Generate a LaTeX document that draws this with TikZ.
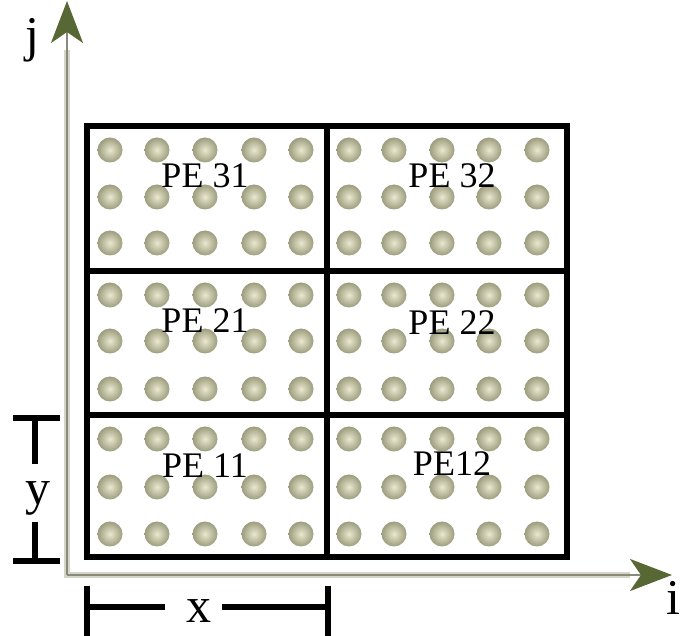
\documentclass[tikz,border=0pt]{standalone}
\usepackage{fontspec}
\setmainfont{Liberation Serif}
\usetikzlibrary{arrows.meta}
\definecolor{axisgray}{RGB}{138,138,122}
\definecolor{axishalo}{RGB}{214,214,200}
\definecolor{tipgreen}{RGB}{88,104,52}
\definecolor{dotin}{RGB}{234,232,206}
\definecolor{dotout}{RGB}{156,156,126}
\tikzset{
  axishalo/.style={line width=6pt, draw=axishalo},
  axisline/.style={line width=2.6pt, draw=axisgray,
    -{Stealth[length=42pt, width=32pt, inset=11pt, color=tipgreen]}},
  gridline/.style={line width=5.5pt, draw=black},
  bracket/.style={line width=5.5pt, draw=black},
  pelabel/.style={font=\fontsize{36}{40}\selectfont, inner sep=0pt},
  axislabel/.style={font=\fontsize{50}{56}\selectfont, inner sep=0pt},
  atom/.style={inner color=dotin, outer color=dotout}
}
\begin{document}
\begin{tikzpicture}[x=1pt, y=-1pt]
\useasboundingbox (0,0) rectangle (681,636);

% axes
\coordinate (o) at (67,575);
\coordinate (jtip) at (67,1);
\coordinate (itip) at (672,575);
\draw[axishalo] (jtip |- 0,50) -- (o) -- (itip -| 630,0);
\draw[axisline] (o) -- (jtip);
\draw[axisline] (o) -- (itip);
\node[axislabel] (jlab) at (32,40) {j};
\node[axislabel, anchor=east] (ilab) at (681,598) {i};

% particles
\foreach \cx in {110,157,205,254,301,349,394,442,489,537}
  \foreach \cy in {150,197,243,295,341,389,439,487,534}
    \shade[atom] (\cx,\cy) circle (12.5);

% processor grid
\coordinate (bl) at (87,557);
\coordinate (tr) at (567,126);
\draw[gridline] (bl) rectangle (tr);
\draw[gridline] (327,126) -- (327,557);
\draw[gridline] (87,271) -- (567,271);
\draw[gridline] (87,415) -- (567,415);

\node[pelabel] (pe31) at (205,176) {PE 31};
\node[pelabel] (pe32) at (452,176) {PE 32};
\node[pelabel] (pe21) at (205,321) {PE 21};
\node[pelabel] (pe22) at (452,323) {PE 22};
\node[pelabel] (pe11) at (205,466) {PE 11};
\node[pelabel] (pe12) at (452,464) {PE12};

% cell height marker
\node[axislabel] (ylab) at (38,498) {y};
\coordinate (yt) at (35,418);
\coordinate (yb) at (35,561);
\draw[bracket] (13,418) -- (60,418);
\draw[bracket] (13,561) -- (60,561);
\draw[bracket] (yt) -- (35,464);
\draw[bracket] (35,522) -- (yb);

% cell width marker
\node[axislabel] (xlab) at (199,611) {x};
\coordinate (xl) at (87,607);
\coordinate (xr) at (328,607);
\draw[bracket] (87,586) -- (87,640);
\draw[bracket] (328,586) -- (328,640);
\draw[bracket] (xl) -- (165,607);
\draw[bracket] (222,607) -- (xr);
\end{tikzpicture}
\end{document}
